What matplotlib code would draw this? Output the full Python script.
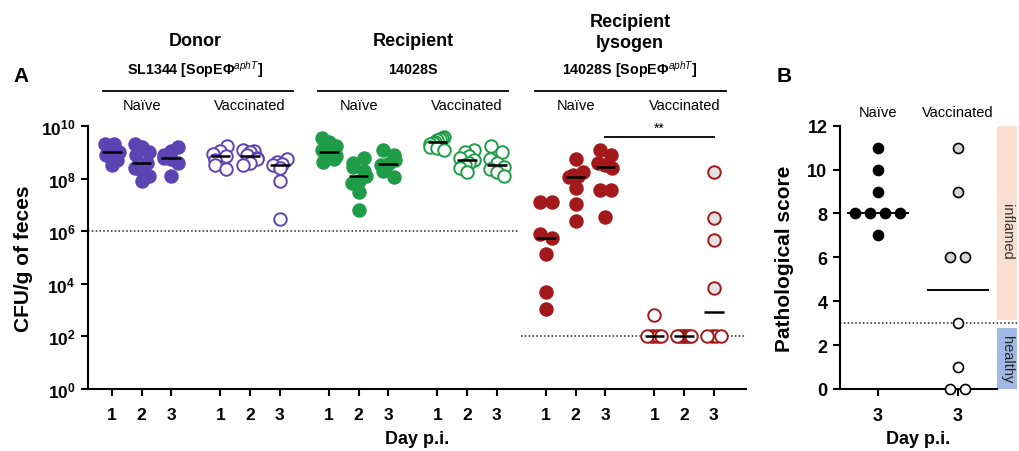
import numpy as np
import matplotlib
matplotlib.use("Agg")
import matplotlib.pyplot as plt
from matplotlib.patches import Rectangle
from matplotlib.ticker import FixedLocator, NullLocator

plt.rcParams["font.family"] = ["Liberation Sans", "DejaVu Sans"]
plt.rcParams["mathtext.fontset"] = "custom"
plt.rcParams["mathtext.rm"] = "Liberation Sans"
plt.rcParams["mathtext.bf"] = "Liberation Sans:bold"
plt.rcParams["mathtext.it"] = "Liberation Sans:italic"

# ---- data -------------------------------------------------------------------
GROUPS = ["Donor", "Recipient", "Recipient\nlysogen"]
STRAINS = [r"$\mathbf{SL1344\ [SopE\Phi}^{\mathit{aphT}}\mathbf{]}$",
           r"$\mathbf{14028S}$",
           r"$\mathbf{14028S\ [SopE\Phi}^{\mathit{aphT}}\mathbf{]}$"]
CONDITIONS = ["Naïve", "Vaccinated"]
DAYS = [1, 2, 3]

# log10 CFU per g feces, one list per day (days 1, 2, 3)
donor_naive = [[9.3, 9.3, 9.1, 9.0, 8.9, 8.7, 8.5],
               [9.3, 9.2, 9.0, 8.9, 8.6, 8.4, 8.3, 8.1, 7.9],
               [9.2, 9.05, 8.9, 8.8, 8.75, 8.6, 8.1]]
donor_vacc = [[9.25, 9.05, 8.95, 8.85, 8.7, 8.5, 8.35],
              [9.1, 9.05, 9.0, 8.9, 8.8, 8.75, 8.6, 8.5],
              [8.75, 8.65, 8.55, 8.5, 8.4, 7.9, 6.45]]
recip_naive = [[9.55, 9.4, 9.25, 9.1, 9.0, 9.0, 8.95, 8.85, 8.75, 8.65],
               [8.8, 8.6, 8.45, 8.3, 8.1, 7.9, 7.85, 7.5, 6.8],
               [9.1, 8.9, 8.7, 8.55, 8.5, 8.3, 8.05]]
recip_vacc = [[9.6, 9.55, 9.5, 9.45, 9.4, 9.35, 9.3, 9.2, 9.15, 9.1],
              [9.1, 9.0, 8.85, 8.8, 8.7, 8.6, 8.5, 8.4, 8.25],
              [9.25, 9.0, 8.75, 8.6, 8.45, 8.35, 8.25, 8.1]]
lyso_naive = [[7.1, 7.1, 5.9, 5.75, 5.15, 3.7, 3.05],
              [8.75, 8.25, 8.15, 8.1, 8.05, 7.65, 7.05, 6.4],
              [9.1, 8.9, 8.6, 8.5, 8.4, 7.55, 7.55, 6.55]]
lyso_vacc = [[2.8, 2, 2, 2, 2, 2],
             [2, 2, 2, 2, 2, 2, 2],
             [8.25, 6.5, 5.65, 3.85, 2, 2, 2, 2]]
DETECTION_LIMIT = [6, 6, 2]  # log10 CFU/g, per strain group

# pathological score at day 3
score_naive = [11, 10, 9, 8, 8, 8, 8, 7]
score_vacc = [11, 9, 6, 6, 3, 1, 0, 0]
SCORE_CUTOFF = 3

# ---- styling ----------------------------------------------------------------
PURPLE = "#5a45b2"
GREEN = "#1f9c48"
RED = "#a3181a"
GROUP_GAP = 3.65       # x distance between the starts of neighbouring day groups
PX_X_A = 29.74         # pixels per x unit, panel A
PX_DEC_A = 26.3        # pixels per decade, panel A
PX_X_B = 80.0
PX_Y_B = 21.95


def swarm_offsets(vals, px_per_y, diam, max_half, step=None):
    """Spread points at roughly the same height sideways; offsets in pixels."""
    vals = np.asarray(vals, float)
    order = np.argsort(-vals, kind="stable")
    offsets = np.zeros(len(vals))
    step = step if step is not None else diam * 0.9
    i = 0
    while i < len(order):
        j = i
        while (j + 1 < len(order)
               and (vals[order[i]] - vals[order[j + 1]]) * px_per_y < diam * 0.7):
            j += 1
        row = order[i:j + 1]
        n = len(row)
        if n > 1:
            gap = min(step, 2 * max_half / (n - 1))
            slots = (np.arange(n) - (n - 1) / 2) * gap
            slots = slots[np.argsort(np.abs(slots), kind="stable")]
            centre = vals[row].mean()
            by_dist = row[np.argsort(np.abs(vals[row] - centre), kind="stable")]
            offsets[by_dist] = slots
        i = j + 1
    return offsets


fig = plt.figure(figsize=(10.2, 4.52), dpi=100)
W, H = 1020, 452


def fig_box(x0, x1, y_top, y_bot):
    return [x0 / W, 1 - y_bot / H, (x1 - x0) / W, (y_bot - y_top) / H]


# ---- panel A ----------------------------------------------------------------
axA = fig.add_axes(fig_box(88, 746, 127, 390))
axA.set_yscale("log")
axA.set_ylim(1, 1e10)
axA.set_xlim(-0.80, 21.33)

series = [(donor_naive, PURPLE, True), (donor_vacc, PURPLE, False),
          (recip_naive, GREEN, True), (recip_vacc, GREEN, False),
          (lyso_naive, RED, True), (lyso_vacc, RED, False)]

tick_pos = []
for g, (days, colour, filled) in enumerate(series):
    for d, vals in enumerate(days):
        x0 = g * GROUP_GAP + d
        tick_pos.append(x0)
        vals = np.asarray(vals, float)
        offs = swarm_offsets(vals, PX_DEC_A, 12.5, 7) / PX_X_A
        limit = DETECTION_LIMIT[g // 2]
        for v, o in zip(vals, offs):
            if filled:
                face = colour
            elif g == 5 and d == 2 and v > limit:
                face = "#e2e2e2"
            else:
                face = "white"
            axA.plot(x0 + o, 10 ** v, "o", ms=9, mfc=face, mec=colour,
                     mew=1.4, clip_on=False, zorder=3)
        med = np.median(vals)
        axA.plot([x0 - 0.33, x0 + 0.33], [10 ** med] * 2, color="black",
                 lw=1.8, zorder=4, solid_capstyle="butt")

# detection limits: 10^6 for donor/recipient, 10^2 for the lysogen
axA.plot([-0.80, 13.65], [10 ** DETECTION_LIMIT[0]] * 2, color="#222222",
         lw=1.1, ls=(0, (1, 1.5)), zorder=2)
axA.plot([13.75, 21.33], [10 ** DETECTION_LIMIT[2]] * 2, color="#222222",
         lw=1.1, ls=(0, (1, 1.5)), zorder=2, clip_on=False)

# significance bar between naive and vaccinated lysogen, day 3
x_a = 4 * GROUP_GAP + 2
x_b = 5 * GROUP_GAP + 2
axA.plot([x_a, x_b], [10 ** 9.58] * 2, color="black", lw=1.3, clip_on=False)
axA.text((x_a + x_b) / 2, 10 ** 9.68, "**", ha="center", va="bottom",
         fontsize=10, clip_on=False)

axA.yaxis.set_major_locator(FixedLocator([10.0 ** e for e in range(0, 11, 2)]))
axA.yaxis.set_minor_locator(NullLocator())
axA.set_yticklabels([r"$\mathbf{10^{%d}}$" % e for e in range(0, 11, 2)])
axA.set_xticks(tick_pos)
axA.set_xticklabels([str(d) for _ in range(6) for d in DAYS],
                    fontweight="bold")
axA.tick_params(axis="both", direction="out", length=5, width=1.5,
                labelsize=12.5, pad=4)
axA.tick_params(axis="x", pad=8)
for side in ("top", "right"):
    axA.spines[side].set_visible(False)
for side in ("left", "bottom"):
    axA.spines[side].set_linewidth(1.5)
axA.set_ylabel("CFU/g of feces", fontsize=15, fontweight="bold")
axA.yaxis.set_label_coords(-0.083, 0.5)
axA.set_xlabel("Day p.i.", fontsize=13, fontweight="bold")
axA.xaxis.set_label_coords(0.5, -0.155)

# group headers above panel A
centres = [(111.7 + 279) / 2, (329 + 496.7) / 2, (546 + 714) / 2]
spans = [(103, 293), (318, 508), (535, 726)]
cond_x = [[141.7, 250], [358.7, 466.7], [576, 685]]
for k in range(3):
    fig.text(centres[k] / W, 1 - 33 / H if k == 2 else 1 - 42 / H, GROUPS[k],
             ha="center", va="center", fontsize=13, fontweight="bold",
             linespacing=1.25)
    fig.text(centres[k] / W, 1 - 70 / H, STRAINS[k], ha="center", va="center",
             fontsize=10.3)
    fig.add_artist(plt.Line2D([spans[k][0] / W, spans[k][1] / W],
                              [1 - 92 / H] * 2, color="black", lw=1.3))
    for c in range(2):
        fig.text(cond_x[k][c] / W, 1 - 106 / H, CONDITIONS[c], ha="center",
                 va="center", fontsize=10.5)

fig.text(21 / W, 1 - 77 / H, "A", ha="center", va="center", fontsize=15,
         fontweight="bold")
fig.text(784 / W, 1 - 77 / H, "B", ha="center", va="center", fontsize=15,
         fontweight="bold")

# ---- panel B ----------------------------------------------------------------
axB = fig.add_axes(fig_box(840, 997, 126.7, 390))
axB.set_xlim(-0.475, 1.49)
axB.set_ylim(0, 12)

for x0, vals, colour in [(0, score_naive, "black"), (1, score_vacc, "white")]:
    vals = np.asarray(vals, float)
    offs = swarm_offsets(vals, PX_Y_B, 10, 25, step=15) / PX_X_B
    for v, o in zip(vals, offs):
        if colour == "black":
            face = "black"
        else:
            face = "#d4d4d4" if v > SCORE_CUTOFF else "white"
        axB.plot(x0 + o, v, "o", ms=7.2, mfc=face, mec="black", mew=1.2,
                 clip_on=False, zorder=3)
    axB.plot([x0 - 0.375, x0 + 0.375], [np.median(vals)] * 2, color="black",
             lw=1.4, zorder=2)

axB.plot([-0.475, 1.74], [SCORE_CUTOFF] * 2, color="#222222", lw=1.1,
         ls=(0, (1, 1.5)), clip_on=False, zorder=1)
axB.add_patch(Rectangle((1.49, 3.15), 0.25, 12 - 3.15, facecolor="#f8dfd0",
                        edgecolor="none", clip_on=False, zorder=0))
axB.add_patch(Rectangle((1.49, 0), 0.25, 2.8, facecolor="#a0b9e4",
                        edgecolor="none", clip_on=False, zorder=0))
axB.text(1.615, 7.2, "inflamed", rotation=270, ha="center", va="center",
         fontsize=10.5, color="#333333")
axB.text(1.615, 1.4, "healthy", rotation=270, ha="center", va="center",
         fontsize=10.5, color="#222222")

axB.set_xticks([0, 1])
axB.set_xticklabels(["3", "3"], fontweight="bold")
axB.set_yticks(range(0, 13, 2))
axB.set_yticklabels([str(t) for t in range(0, 13, 2)], fontweight="bold")
axB.tick_params(axis="both", direction="out", length=5, width=1.5,
                labelsize=13, pad=4)
axB.tick_params(axis="x", pad=8)
for side in ("top", "right"):
    axB.spines[side].set_visible(False)
for side in ("left", "bottom"):
    axB.spines[side].set_linewidth(1.5)
axB.set_ylabel("Pathological score", fontsize=15, fontweight="bold")
axB.yaxis.set_label_coords(-0.295, 0.5)
axB.set_xlabel("Day p.i.", fontsize=13, fontweight="bold")
axB.xaxis.set_label_coords(0.5, -0.155)
for x0, name in zip([878, 958], CONDITIONS):
    fig.text(x0 / W, 1 - 113 / H, name, ha="center", va="center",
             fontsize=10.5)

fig.savefig("out.png", dpi=100)
